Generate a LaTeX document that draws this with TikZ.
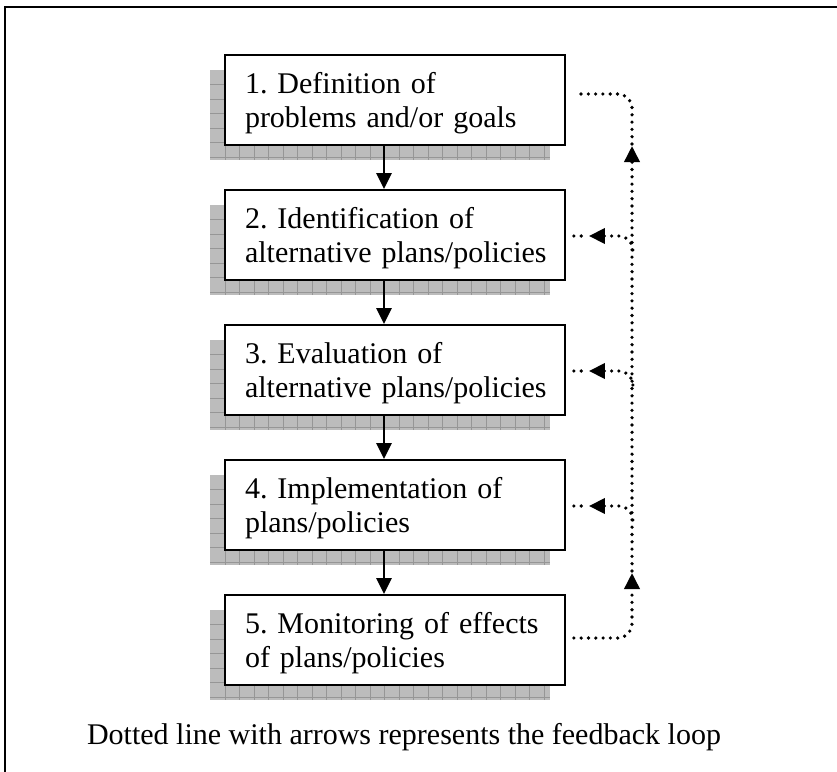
\documentclass[tikz,border=0pt]{standalone}
\usepackage{fontspec}
\setmainfont{Liberation Serif}
\usetikzlibrary{arrows.meta,calc}
\definecolor{shfill}{RGB}{188,188,188}
\definecolor{shline}{RGB}{150,150,150}
\frenchspacing
\begin{document}
\begin{tikzpicture}[x=1pt,y=-1pt,
  stepbox/.style={draw, line width=1.8pt, fill=white, minimum width=340pt,
    minimum height=90pt, text width=300pt, inner xsep=20pt, inner ysep=0pt,
    align=left, font=\fontsize{30}{34}\selectfont\frenchspacing},
  flow/.style={line width=2.7pt, -{Triangle[length=16pt,width=15pt]}},
  fb/.style={line width=3.6pt, line cap=round, dash pattern=on 0pt off 7.3pt},
  fbtip/.style={-{Triangle[length=16pt,width=15pt]}},
  caption/.style={font=\fontsize{30}{34}\selectfont, anchor=base, inner sep=0pt}
]
\useasboundingbox (0,0) rectangle (837,771);
% frame (top and left edges visible)
\draw[line width=2pt] (5,780) -- (5,7) -- (845,7);

% grid shadows
\foreach \t in {55,190,325,460,595} {
  \fill[shfill] (210,\t+15) rectangle (550,\t+105);
  \foreach \k in {1,...,6}
    \draw[shline, line width=0.8pt] (210,\t+15+14.5*\k) -- (550,\t+15+14.5*\k);
  \foreach \k in {0,...,22}
    \draw[shline, line width=0.8pt] (225+14.5*\k,\t+15) -- (225+14.5*\k,\t+105);
}

% boxes
\node[stepbox] (b1) at (395,100) {\rule{0pt}{26.5pt}\mbox{1. Definition of}\\\mbox{problems and/or goals}};
\node[stepbox] (b2) at (395,235) {\rule{0pt}{26.5pt}\mbox{2. Identification of}\\\mbox{alternative plans/policies}};
\node[stepbox] (b3) at (395,370) {\rule{0pt}{26.5pt}\mbox{3. Evaluation of}\\\mbox{alternative plans/policies}};
\node[stepbox] (b4) at (395,505) {\rule{0pt}{26.5pt}\mbox{4. Implementation of}\\\mbox{plans/policies}};
\node[stepbox] (b5) at (395,640) {\rule{0pt}{26.5pt}\mbox{5. Monitoring of effects}\\\mbox{of plans/policies}};

% main flow arrows
\draw[flow] ($(b1.south)+(-11,0)$) -- ($(b2.north)+(-11,0)$);
\draw[flow] ($(b2.south)+(-11,0)$) -- ($(b3.north)+(-11,0)$);
\draw[flow] ($(b3.south)+(-11,0)$) -- ($(b4.north)+(-11,0)$);
\draw[flow] ($(b4.south)+(-11,0)$) -- ($(b5.north)+(-11,0)$);

% feedback loop
\coordinate (s5) at ($(b5.east)+(8,-2)$);
\coordinate (e1) at ($(b1.east)+(8,-6)$);
\coordinate (up5) at (632,573);
\coordinate (up1) at (632,146);
\draw[fb, fbtip, rounded corners=14pt] (s5) -| (up5);
\draw[fb, fbtip] (632,571) -- (up1);
\draw[fb, rounded corners=14pt] (632,144) |- (e1);

\foreach \b in {b2,b3,b4} {
  \coordinate (t\b) at ($(\b.east)+(23,1)$);
  \coordinate (l\b) at ($(\b.east)+(8,1)$);
  \draw[fb, fbtip, rounded corners=14pt] ($(\b.east)+(67,15)$) |- (t\b);
  \draw[fb] (l\b) -- ($(\b.east)+(20,1)$);
}

% caption
\node[caption] (cap) at (404,744) {Dotted line with arrows represents the feedback loop};
\end{tikzpicture}
\end{document}
